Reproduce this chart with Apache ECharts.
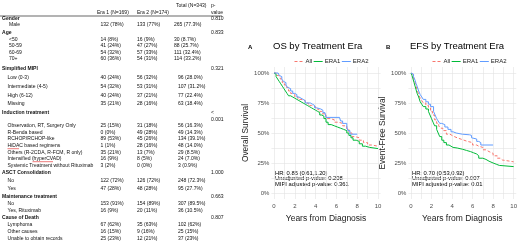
<!DOCTYPE html>
<html><head><meta charset="utf-8">
<script src="https://cdn.jsdelivr.net/npm/echarts@6/dist/echarts.min.js"></script>
<style>html,body{margin:0;padding:0;background:#fff}#c{width:520px;height:245px}</style>
</head><body><div id="c"></div>
<script>
// ---------- Table data ----------
const tableHeaders = ['Era 1 (N=169)', 'Era 2 (N=174)', 'Total (N=343)', 'p-', 'value'];
const rowLabels = ['Gender','Male','Age','<50','50-59','60-69','70+','Simplified MIPI','Low (0-3)','Intermediate (4-5)','High (6-12)','Missing','Induction treatment','Observation, RT, Surgery Only','R-Benda based','RCHOP/RCHOP-like','HiDAC based regimens','Others (R-2CDA, R-FCM, R only)','Intensified (hyperCVAD)','Systemic Treatment without Rituximab','ASCT Consolidation','No','Yes','Maintenance treatment','No','Yes, Rituximab','Cause of Death','Lymphoma','Other causes','Unable to obtain records'];
const rowIsSection = [1,0,1,0,0,0,0,1,0,0,0,0,1,0,0,0,0,0,0,0,1,0,0,1,0,0,1,0,0,0];
const era1Vals = ['','132 (78%)','','14 (8%)','41 (24%)','54 (32%)','60 (36%)','','40 (24%)','54 (32%)','40 (24%)','35 (21%)','','25 (15%)','0 (0%)','89 (53%)','1 (1%)','35 (21%)','16 (9%)','3 (2%)','','122 (72%)','47 (28%)','','153 (91%)','16 (9%)','','67 (62%)','16 (15%)','25 (23%)'];
const era2Vals = ['','133 (77%)','','16 (9%)','47 (27%)','57 (33%)','54 (31%)','','56 (32%)','53 (31%)','37 (21%)','28 (16%)','','31 (18%)','49 (28%)','45 (26%)','28 (16%)','13 (7%)','8 (5%)','0 (0%)','','126 (72%)','48 (28%)','','154 (89%)','20 (11%)','','35 (63%)','9 (16%)','12 (21%)'];
const totalVals = ['','265 (77.3%)','','30 (8.7%)','88 (25.7%)','111 (32.4%)','114 (33.2%)','','96 (28.0%)','107 (31.2%)','77 (22.4%)','63 (18.4%)','','56 (16.3%)','49 (14.3%)','134 (39.1%)','48 (14.0%)','29 (8.5%)','24 (7.0%)','3 (0.9%)','','248 (72.3%)','95 (27.7%)','','307 (89.5%)','36 (10.5%)','','102 (62%)','25 (15%)','37 (23%)'];
const pVals = ['0.810','','0.833','','','','','0.321','','','','','<\n0.001','','','','','','','','1.000','','','0.663','','','0.807','','',''];

// ---------- KM curves: [years, survival %] ----------
const osAll = [[0,100],[0.2,98],[0.4,97],[0.6,95],[0.8,92],[1.0,90],[1.2,88],[1.4,85],[1.6,83],[1.8,82],[2.0,80],[2.3,78],[2.6,77],[3.0,75],[3.3,73],[3.6,72],[4.0,70],[4.3,68],[4.6,66],[5.0,62],[5.4,61],[5.8,59],[6.2,58],[6.6,56],[7.0,53],[7.2,50],[7.5,47],[7.8,46],[8.2,44],[8.6,42],[9.0,40],[9.4,39],[10,39]];
const osEra1 = [[0,100],[0.1,99],[0.2,97],[0.35,95],[0.5,93],[0.65,91],[0.8,89],[0.95,87],[1.1,85],[1.25,83],[1.4,81],[1.6,80],[1.8,79],[2.0,78],[2.2,77],[2.4,76],[2.6,75],[2.8,74],[3.0,73],[3.2,72],[3.4,71],[3.6,70],[3.8,69],[4.0,68],[4.2,67],[4.4,65],[4.6,64],[4.8,62],[5.0,59],[5.2,57],[5.5,56],[5.8,55],[6.1,54],[6.4,53],[6.7,52],[7.0,50],[7.2,48],[7.4,46],[7.6,44],[7.9,43],[8.2,41],[8.5,39],[8.8,38],[9.2,37],[10,37]];
const osEra2 = [[0,100],[0.4,100],[0.5,98],[0.6,97],[0.75,95],[0.9,93],[1.0,92],[1.15,90],[1.3,88],[1.45,87],[1.6,85],[1.8,83],[2.0,82],[2.2,80],[2.4,79],[2.6,78],[2.8,77],[3.0,75],[3.5,74],[3.7,73],[3.9,71],[4.1,70],[4.5,69],[4.7,67],[4.9,66],[5.0,63],[6.3,63],[6.4,60],[6.6,58],[7.0,55],[7.1,52],[7.3,49],[8.0,49]];
const efsAll = [[0,100],[0.1,98.5],[0.25,96],[0.4,92],[0.5,89],[0.6,86],[0.75,82],[0.9,79],[1.05,77],[1.2,75],[1.45,73],[1.7,71],[1.9,68],[2.1,65],[2.3,61],[2.5,58],[2.7,56],[2.85,54],[3.1,52],[3.45,49],[3.8,47.5],[4.1,46],[4.5,44.5],[5.0,43],[5.5,42],[6.0,40],[6.4,39],[6.6,38],[7.0,36],[7.3,34.5],[7.6,33],[8.0,31],[8.4,29],[8.7,27.5],[8.9,26],[10,26]];
const efsEra1 = [[0,100],[0.1,98],[0.2,95],[0.3,92],[0.4,89],[0.5,86],[0.6,83],[0.75,80],[0.9,76],[1.05,74],[1.2,72],[1.45,70],[1.7,68],[1.85,65],[2.0,62],[2.15,59],[2.3,56],[2.5,53],[2.65,50],[2.8,47],[3.0,44],[3.2,42],[3.45,40],[3.7,39],[3.9,38],[4.1,37.5],[4.5,36.5],[5.0,35.5],[5.4,34.5],[5.8,33.5],[6.1,32.5],[6.4,31],[6.6,29],[7.0,28],[7.3,26.5],[7.6,25],[8.0,24],[8.3,23],[8.6,22],[10,22]];
const efsEra2 = [[0,100],[0.1,99],[0.25,97],[0.4,94],[0.5,91],[0.6,89],[0.75,85],[0.9,82],[1.05,80],[1.2,78],[1.45,76],[1.7,74],[1.9,72],[2.2,68],[2.35,65],[2.5,62],[2.65,60],[2.8,58],[3.0,57],[3.3,55],[3.6,53],[3.9,51],[4.1,50],[4.4,49],[5.0,48.5],[5.7,48],[5.9,46],[6.0,45],[6.4,43],[6.6,42],[6.8,40],[8.0,40]];

const seriesNames = ['All', 'ERA1', 'ERA2'];
const xTickLabels = [0, 2, 4, 6, 8, 10];
const xGridValues = [0,1,2,3,4,5,6,7,8,9,10];
const yTickLabels = [0, 25, 50, 75, 100];
const yGridValues = [0,12.5,25,37.5,50,62.5,75,87.5,100];
const panelTitles = ['OS by Treatment Era', 'EFS by Treatment Era'];
const panelLetters = ['A', 'B'];
const yTitles = ['Overall Survival', 'Event-Free Survival'];
const xTitle = 'Years from Diagnosis';
const statsA = ['HR: 0.85 (0.61,1.20)', 'Unadjusted p-value: 0.208', 'MIPI adjusted p-value: 0.361'];
const statsB = ['HR: 0.70 (0.53,0.92)', 'Unadjusted p-value: 0.007', 'MIPI adjusted p-value: 0.01'];

// ---------- layout / style ----------
const FONT = 'Liberation Sans';
const TFONT = 5.05;
const rowY = [19,25,33,39.5,46,52.5,59,69,77.5,87,95.5,104,112.5,126,132.5,139,146,152.5,159,165.5,173,181,189,197,204,211,218,225,232,238.5];
const colors = ['#F8766D', '#00BA38', '#619CFF'];
const gridsPx = [{left: 271.4, top: 67, width: 109.2, height: 132}, {left: 408.4, top: 67, width: 109.2, height: 132}];

function txt(x, y, s, opt) {
  opt = opt || {};
  const multi = s.indexOf('\n') >= 0;
  return {
    type: 'text', x: x, y: multi ? y - 3.5 : y, silent: true,
    style: {
      text: s, fontSize: opt.size || TFONT, fontFamily: FONT, fontWeight: opt.bold ? 'bold' : 'normal',
      fill: opt.color || '#111', lineHeight: 7,
      align: opt.align || 'left', textAlign: opt.align || 'left',
      verticalAlign: multi ? 'top' : 'middle', textVerticalAlign: multi ? 'top' : 'middle'
    }
  };
}

const graphics = [];
graphics.push(txt(97, 13, tableHeaders[0]));
graphics.push(txt(137, 13, tableHeaders[1]));
graphics.push(txt(176, 6, tableHeaders[2]));
graphics.push(txt(211, 6, tableHeaders[3]));
graphics.push(txt(211, 12.5, tableHeaders[4]));
graphics.push({type: 'line', silent: true, shape: {x1: 0, y1: 16, x2: 222, y2: 16}, style: {stroke: '#000', lineWidth: 0.6}});
rowLabels.forEach(function (lab, i) {
  const y = rowY[i];
  graphics.push(txt(rowIsSection[i] ? 2 : (i < 7 ? 9 : 7.5), y, lab, {bold: !!rowIsSection[i]}));
  if (era1Vals[i]) graphics.push(txt(100.5, y, era1Vals[i]));
  if (era2Vals[i]) graphics.push(txt(137, y, era2Vals[i]));
  if (totalVals[i]) graphics.push(txt(i < 7 ? 174 : 178, y, totalVals[i]));
  if (pVals[i]) graphics.push(txt(211, y, pVals[i]));
});
// spell-check squiggles
graphics.push({type: 'line', silent: true, shape: {x1: 7.5, y1: 148.7, x2: 19, y2: 148.7}, style: {stroke: '#e02020', lineWidth: 0.6}});
graphics.push({type: 'line', silent: true, shape: {x1: 32.5, y1: 161.7, x2: 53, y2: 161.7}, style: {stroke: '#e02020', lineWidth: 0.6}});
// panel letters and stats
graphics.push(txt(248, 47, panelLetters[0], {bold: true, size: 6, color: '#000'}));
graphics.push(txt(386, 47, panelLetters[1], {bold: true, size: 6, color: '#000'}));
statsA.forEach(function (s, i) { graphics.push(txt(275, 173 + i * 5.8, s, {size: 5.8, color: '#000'})); });
statsB.forEach(function (s, i) { graphics.push(txt(412, 173 + i * 5.8, s, {size: 5.8, color: '#000'})); });

function xAxisFor(gi) {
  return {
    type: 'value', gridIndex: gi, min: -0.25, max: 10.25,
    axisLine: {show: false},
    axisTick: {show: false, customValues: xGridValues},
    axisLabel: {customValues: xTickLabels, fontSize: 6, color: '#4d4d4d', margin: 4, fontFamily: FONT},
    splitLine: {show: true, lineStyle: {color: '#e3e3e3', width: 0.6}},
    name: xTitle, nameLocation: 'middle', nameGap: 10,
    nameTextStyle: {fontSize: 8.5, color: '#1a1a1a', fontFamily: FONT}
  };
}
function yAxisFor(gi) {
  return {
    type: 'value', gridIndex: gi, min: -5, max: 105,
    axisLine: {show: false},
    axisTick: {show: false, customValues: yGridValues},
    axisLabel: {customValues: yTickLabels, fontSize: 6, color: '#4d4d4d', margin: 2, fontFamily: FONT, formatter: '{value}%'},
    splitLine: {show: true, lineStyle: {color: '#e3e3e3', width: 0.6}},
    name: yTitles[gi], nameLocation: 'middle', nameGap: 14, nameRotate: 90,
    nameTextStyle: {fontSize: 8.3, color: '#1a1a1a', fontFamily: FONT}
  };
}
function km(name, data, gi, ci) {
  return {
    name: name, type: 'line', step: 'end', data: data, xAxisIndex: gi, yAxisIndex: gi,
    symbol: 'none', silent: true,
    lineStyle: {color: colors[ci], width: 1, type: ci === 0 ? [3, 2] : 'solid'},
    itemStyle: {color: colors[ci]}
  };
}
function legendFor(left) {
  return {
    data: seriesNames, left: left, top: 58.5, padding: 0, itemWidth: 9, itemHeight: 6, itemGap: 1,
    selectedMode: false,
    itemStyle: {opacity: 0},
    lineStyle: {width: 1},
    textStyle: {fontSize: 6, color: '#222', fontFamily: FONT, padding: [0, 0, 0, -3]}
  };
}

const chart = echarts.init(document.getElementById('c'), null, {renderer: 'canvas'});
chart.setOption({
  animation: false,
  textStyle: {fontFamily: FONT},
  title: [
    {text: panelTitles[0], left: 273, top: 41.5, padding: 0, textStyle: {fontSize: 9.5, fontWeight: 'normal', color: '#000', fontFamily: FONT}},
    {text: panelTitles[1], left: 410, top: 41.5, padding: 0, textStyle: {fontSize: 9.5, fontWeight: 'normal', color: '#000', fontFamily: FONT}}
  ],
  legend: [legendFor(294), legendFor(432)],
  grid: gridsPx,
  xAxis: [xAxisFor(0), xAxisFor(1)],
  yAxis: [yAxisFor(0), yAxisFor(1)],
  series: [
    km(seriesNames[0], osAll, 0, 0), km(seriesNames[1], osEra1, 0, 1), km(seriesNames[2], osEra2, 0, 2),
    km(seriesNames[0], efsAll, 1, 0), km(seriesNames[1], efsEra1, 1, 1), km(seriesNames[2], efsEra2, 1, 2)
  ],
  graphic: graphics
});
</script>
</body></html>
